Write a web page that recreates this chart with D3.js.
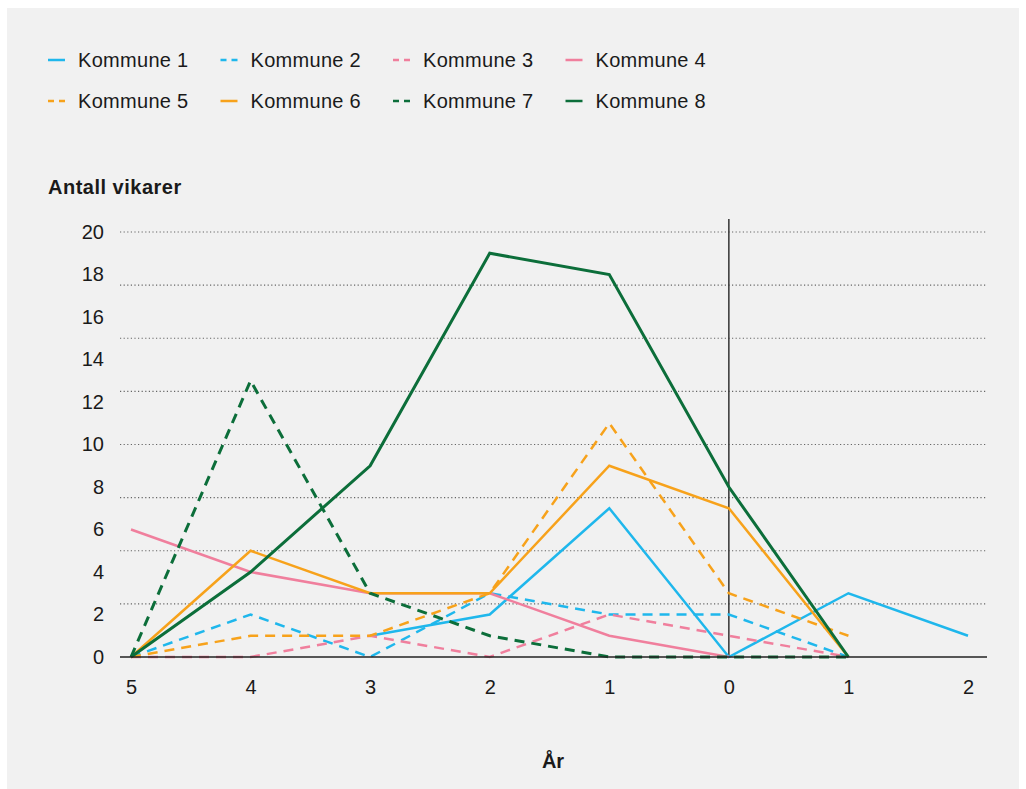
<!DOCTYPE html>
<html>
<head>
<meta charset="utf-8">
<script src="https://cdn.jsdelivr.net/npm/d3@7"></script>
<style>
  body { margin: 0; background: #fff; }
  svg text { font-family: "Liberation Sans", Arial, sans-serif; fill: #1a1a1a; }
</style>
</head>
<body>
<script>
(function() {
  var width = 1026;
  var height = 789;

  // data
  var years = ['5', '4', '3', '2', '1', '0', '1', '2'];
  var names = ['Kommune 1', 'Kommune 2', 'Kommune 3', 'Kommune 4',
               'Kommune 5', 'Kommune 6', 'Kommune 7', 'Kommune 8'];
  var kommune1 = [null, null, 1, 2, 7, 0, 3, 1];
  var kommune2 = [0, 2, 0, 3, 2, 2, 0];
  var kommune3 = [0, 0, 1, 0, 2, 1, 0];
  var kommune4 = [6, 4, 3, 3, 1, 0];
  var kommune5 = [0, 1, 1, 3, 11, 3, 1];
  var kommune6 = [0, 5, 3, 3, 9, 7, 0];
  var kommune7 = [0, 13, 3, 1, 0, 0, 0];
  var kommune8 = [0, 4, 9, 19, 18, 8, 0];
  var yTicks = [0, 2, 4, 6, 8, 10, 12, 14, 16, 18, 20];
  var gridValues = [2.5, 5, 7.5, 10, 12.5, 15, 17.5, 20];

  var blue = '#1fb7ec', pink = '#f07f9d', orange = '#f7a21b', green = '#0c6e3a';
  var series = [
    { name: names[0], values: kommune1, color: blue, dashed: false },
    { name: names[1], values: kommune2, color: blue, dashed: true },
    { name: names[2], values: kommune3, color: pink, dashed: true },
    { name: names[3], values: kommune4, color: pink, dashed: false },
    { name: names[4], values: kommune5, color: orange, dashed: true },
    { name: names[5], values: kommune6, color: orange, dashed: false },
    { name: names[6], values: kommune7, color: green, dashed: true },
    { name: names[7], values: kommune8, color: green, dashed: false }
  ];

  var svg = d3.select('body')
    .append('svg')
    .attr('width', width)
    .attr('height', height);

  svg.append('rect')
    .attr('x', 7).attr('y', 8)
    .attr('width', 1012).attr('height', 781)
    .attr('fill', '#f1f1f1');

  var xScale = d3.scalePoint()
    .domain(d3.range(years.length))
    .range([131, 968]);

  var yScale = d3.scaleLinear()
    .domain([0, 20])
    .range([657, 232]);

  // gridlines
  svg.append('g')
    .selectAll('line')
    .data(gridValues)
    .join('line')
    .attr('x1', 120).attr('x2', 987)
    .attr('y1', d => yScale(d)).attr('y2', d => yScale(d))
    .attr('stroke', '#666')
    .attr('stroke-width', 1.2)
    .attr('stroke-dasharray', '1.2 2.4');

  // y labels
  var yAxis = d3.axisLeft(yScale).tickValues(yTicks).tickSize(0).tickPadding(0);
  var gy = svg.append('g')
    .attr('transform', 'translate(104, 0)')
    .call(yAxis);
  gy.select('.domain').remove();
  gy.selectAll('text')
    .style('font-size', '20px')
    .attr('fill', '#1a1a1a');

  // x labels
  var xAxis = d3.axisBottom(xScale).tickFormat(i => years[i]).tickSize(0).tickPadding(0);
  var gx = svg.append('g')
    .attr('transform', 'translate(0, 680)')
    .call(xAxis);
  gx.select('.domain').remove();
  gx.selectAll('text')
    .style('font-size', '20px')
    .attr('fill', '#1a1a1a');

  // vertical marker at year 0
  svg.append('line')
    .attr('x1', xScale(5)).attr('x2', xScale(5))
    .attr('y1', 219).attr('y2', yScale(0))
    .attr('stroke', '#333')
    .attr('stroke-width', 1.5);

  // lines
  var line = d3.line()
    .defined(d => d != null)
    .x((d, i) => xScale(i))
    .y(d => yScale(d));

  svg.append('g')
    .selectAll('path')
    .data(series)
    .join('path')
    .attr('d', d => line(d.values))
    .attr('fill', 'none')
    .attr('stroke', d => d.color)
    .attr('stroke-width', d => d.color === green ? 3 : 2.5)
    .attr('stroke-dasharray', d => d.dashed ? '10 7' : null);

  // baseline
  svg.append('line')
    .attr('x1', 120).attr('x2', 987)
    .attr('y1', yScale(0)).attr('y2', yScale(0))
    .attr('stroke', '#222')
    .attr('stroke-width', 1.5);

  // axis titles
  svg.append('text')
    .attr('x', 48).attr('y', 194)
    .style('font-size', '20px')
    .style('font-weight', 'bold')
    .style('letter-spacing', '0.5px')
    .text('Antall vikarer');

  svg.append('text')
    .attr('x', 553).attr('y', 768)
    .attr('text-anchor', 'middle')
    .style('font-size', '20px')
    .style('font-weight', 'bold')
    .text('År');

  // legend
  var legend = svg.append('g')
    .selectAll('g')
    .data(series)
    .join('g')
    .attr('transform', (d, i) => `translate(${48 + (i % 4) * 172.5}, ${i < 4 ? 60 : 101})`);

  legend.append('line')
    .attr('x1', 0).attr('x2', 17)
    .attr('y1', 0).attr('y2', 0)
    .attr('stroke', d => d.color)
    .attr('stroke-width', 2.5)
    .attr('stroke-dasharray', d => d.dashed ? '6 5' : null);

  legend.append('text')
    .attr('x', 30).attr('y', 7)
    .style('font-size', '20px')
    .style('letter-spacing', '0.3px')
    .text(d => d.name);
})();
</script>
</body>
</html>
